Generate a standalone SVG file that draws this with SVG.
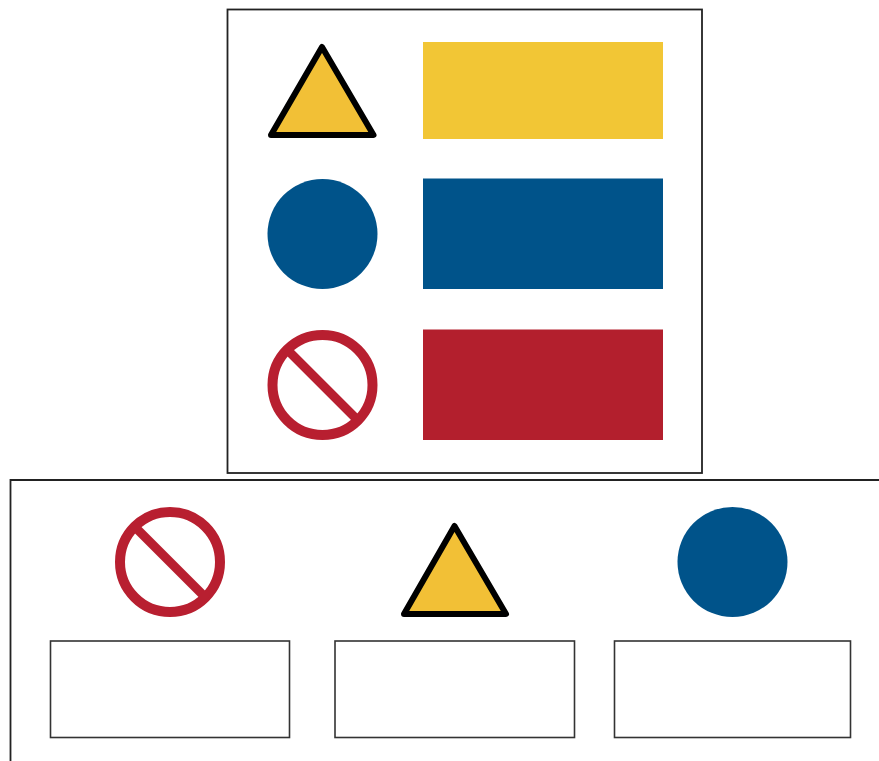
<svg xmlns="http://www.w3.org/2000/svg" width="879" height="761" viewBox="0 0 879 761">
<style>
.frame{fill:none;stroke:#222;stroke-width:1.8}
.box{fill:#fff;stroke:#333;stroke-width:1.6}
.tri{fill:#f2c036;stroke:#000;stroke-width:6;stroke-linejoin:round}
.blue{fill:#00538a}
.red{fill:#b31f2d}
.ring{fill:none;stroke:#b81f30;stroke-width:10}
.bar{stroke:#b81f30;stroke-width:9}
</style>
<defs>
<g id="no"><circle cx="0" cy="0" r="50" class="ring"/><line x1="-37" y1="-37" x2="37" y2="37" class="bar"/></g>
</defs>
<rect width="879" height="761" fill="#fff"/>
<g id="legend-frame"><rect x="227.500" y="9.500" width="474.500" height="463.500" class="frame"/></g>
<g id="bottom-frame"><path d="M879 480H10.500V761" class="frame"/></g>
<g id="legend-warning">
<path d="M322 47L373.500 135H271z" class="tri"/>
<rect x="423" y="42" width="240" height="97" fill="#f2c635"/>
</g>
<g id="legend-mandatory">
<circle cx="322.500" cy="234" r="55" class="blue"/>
<rect x="423" y="178.500" width="240" height="110.500" class="blue"/>
</g>
<g id="legend-prohibition">
<use href="#no" x="322.500" y="385"/>
<rect x="423" y="329.500" width="240" height="110.500" class="red"/>
</g>
<g id="item-prohibition">
<use href="#no" x="170" y="562"/>
<rect x="50.500" y="641" width="239" height="96.500" class="box"/>
</g>
<g id="item-warning">
<path d="M454.500 526L506 614H404z" class="tri"/>
<rect x="335" y="641" width="239.500" height="96.500" class="box"/>
</g>
<g id="item-mandatory">
<circle cx="732.500" cy="562" r="55" class="blue"/>
<rect x="614.500" y="641" width="236" height="96.500" class="box"/>
</g>
<g id="connectors"/>
</svg>
